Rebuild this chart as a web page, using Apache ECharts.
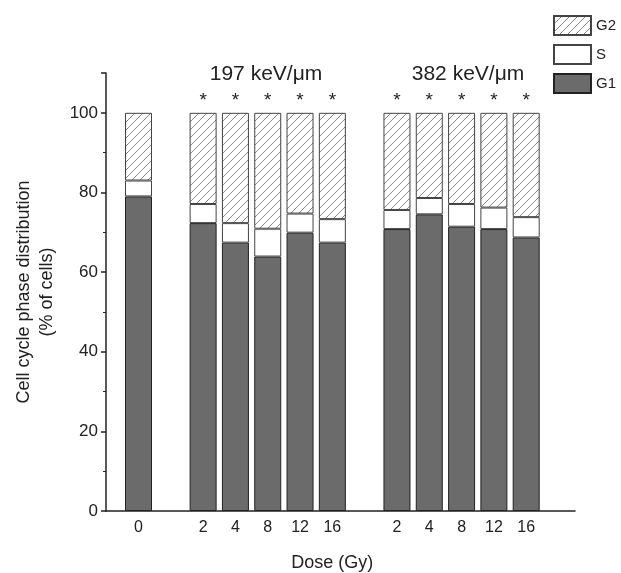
<!DOCTYPE html>
<html>
<head>
<meta charset="utf-8">
<script src="https://cdn.jsdelivr.net/npm/echarts@6/dist/echarts.min.js"></script>
<style>
  html, body { margin: 0; padding: 0; background: #fff; }
  #chart { width: 621px; height: 573px; }
</style>
</head>
<body>
<div id="chart"></div>
<script>
// 数据
var doses = ['0', '', '2', '4', '8', '12', '16', '', '2', '4', '8', '12', '16'];
var g1 = [79, '-', 72.3, 67.4, 63.9, 69.9, 67.4, '-', 70.8, 74.5, 71.4, 70.8, 68.7];
var s  = [4, '-', 4.8, 4.9, 7.0, 4.8, 5.9, '-', 4.8, 4.1, 5.7, 5.4, 5.1];
var g2 = [17, '-', 22.9, 27.7, 29.1, 25.3, 26.7, '-', 24.4, 21.4, 22.9, 23.8, 26.2];
var stars = [0, 0, 1, 1, 1, 1, 1, 0, 1, 1, 1, 1, 1];
var groupTitles = ['197 keV/\u03bcm', '382 keV/\u03bcm'];

// 斜线填充
function hatch() {
    var c = document.createElement('canvas');
    c.width = 8; c.height = 8;
    var ctx = c.getContext('2d');
    ctx.fillStyle = '#fff';
    ctx.fillRect(0, 0, 8, 8);
    ctx.strokeStyle = '#8a8a8a';
    ctx.lineWidth = 1;
    ctx.beginPath();
    ctx.moveTo(0, 8); ctx.lineTo(8, 0);
    ctx.moveTo(-4, 4); ctx.lineTo(4, -4);
    ctx.moveTo(4, 12); ctx.lineTo(12, 4);
    ctx.stroke();
    return c;
}

var font = 'Liberation Sans, Arial, sans-serif';
var myChart = echarts.init(document.getElementById('chart'));
var option = {
    animation: false,
    textStyle: { fontFamily: font },
    title: [
        { text: groupTitles[0], left: 261, top: 59, textAlign: 'center',
          textStyle: { fontSize: 21, fontWeight: 'normal', color: '#222', fontFamily: font } },
        { text: groupTitles[1], left: 463, top: 59, textAlign: 'center',
          textStyle: { fontSize: 21, fontWeight: 'normal', color: '#222', fontFamily: font } }
    ],
    legend: {
        orient: 'vertical',
        left: 553,
        top: 15,
        icon: 'rect',
        itemWidth: 37,
        itemHeight: 19,
        itemGap: 8,
        padding: 0,
        textStyle: { fontSize: 15, color: '#222' },
        data: ['G2', 'S', 'G1']
    },
    grid: [
        { left: 106, right: 46, top: 73, bottom: 62, outerBoundsMode: 'none' },
        { left: 122.35, width: 420, top: 73, bottom: 62, outerBoundsMode: 'none' }
    ],
    xAxis: [
        {
            gridIndex: 0, type: 'value', min: 0, max: 1,
            axisLine: { show: true, lineStyle: { color: '#222', width: 1.5 } },
            axisTick: { show: false }, axisLabel: { show: false }, splitLine: { show: false }
        },
        {
            gridIndex: 1, type: 'category', data: doses,
            axisLine: { show: false }, axisTick: { show: false },
            axisLabel: { fontSize: 16, color: '#222', margin: 9, interval: 0 },
            name: 'Dose (Gy)', nameLocation: 'middle', nameGap: 43,
            nameTextStyle: { fontSize: 18, color: '#222' }
        }
    ],
    yAxis: [
        {
            gridIndex: 0, type: 'value', min: 0, max: 110, interval: 20,
            axisLine: { show: true, lineStyle: { color: '#222', width: 1.5 } },
            axisTick: { show: true, inside: false, length: 5, lineStyle: { color: '#222', width: 1.5 } },
            minorTick: { show: true, splitNumber: 2, length: 3, lineStyle: { color: '#222', width: 1 } },
            axisLabel: { fontSize: 17, color: '#222', margin: 8, showMaxLabel: false },
            splitLine: { show: false },
            name: 'Cell cycle phase distribution\n(% of cells)',
            nameLocation: 'middle', nameGap: 44,
            nameTextStyle: { fontSize: 18, color: '#222', lineHeight: 23 }
        },
        {
            gridIndex: 1, type: 'value', min: 0, max: 110, show: false
        }
    ],
    series: [
        {
            name: 'G1', type: 'bar', stack: 'total', xAxisIndex: 1, yAxisIndex: 1,
            barWidth: 27, data: g1,
            itemStyle: { color: '#6b6b6b', borderColor: '#222', borderWidth: 1 }
        },
        {
            name: 'S', type: 'bar', stack: 'total', xAxisIndex: 1, yAxisIndex: 1,
            barWidth: 27, data: s,
            itemStyle: { color: '#ffffff', borderColor: '#444', borderWidth: 1 }
        },
        {
            name: 'G2', type: 'bar', stack: 'total', xAxisIndex: 1, yAxisIndex: 1,
            barWidth: 27, data: g2,
            itemStyle: { color: { image: hatch(), repeat: 'repeat' }, borderColor: '#444', borderWidth: 1 },
            label: {
                show: true, position: 'top', distance: 3,
                fontSize: 19, color: '#222',
                formatter: function (p) { return stars[p.dataIndex] ? '*' : ''; }
            }
        }
    ]
};
myChart.setOption(option);
</script>
</body>
</html>
